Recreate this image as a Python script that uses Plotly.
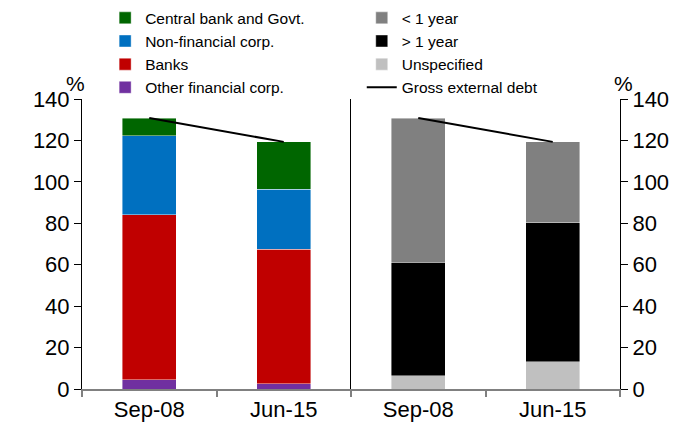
import plotly.graph_objects as go
from plotly.subplots import make_subplots

dates = ["Sep-08", "Jun-15"]

# left panel: external debt by sector (% of GDP)
other_fin = [4.5, 2.6]
banks = [79.7, 64.9]
non_fin = [38.0, 28.9]
central_govt = [8.6, 22.9]

# right panel: external debt by maturity
unspecified = [6.5, 13.2]
over_1y = [54.7, 67.0]
under_1y = [69.6, 39.1]

gross_debt = [130.8, 119.3]

FONT = "Liberation Sans, Arial, sans-serif"
EDGE = dict(color="rgba(255,255,255,0.6)", width=0.7)

fig = make_subplots(rows=1, cols=2, horizontal_spacing=0)

# stacked from the bottom up, legend order set by legendrank
left = [("Other financial corp.", other_fin, "#7030A0", 4),
        ("Banks", banks, "#C00000", 3),
        ("Non-financial corp.", non_fin, "#0070C0", 2),
        ("Central bank and Govt.", central_govt, "#006600", 1)]
for name, vals, col, rank in left:
    fig.add_trace(go.Bar(x=dates, y=vals, name=name, marker_color=col,
                         marker_line=EDGE, legend="legend", legendrank=rank),
                  row=1, col=1)

right = [("Unspecified", unspecified, "#C0C0C0", 3),
         ("> 1 year", over_1y, "#000000", 2),
         ("< 1 year", under_1y, "#808080", 1)]
for name, vals, col, rank in right:
    fig.add_trace(go.Bar(x=dates, y=vals, name=name, marker_color=col,
                         marker_line=EDGE, legend="legend2", legendrank=rank),
                  row=1, col=2)

fig.add_trace(go.Scatter(x=dates, y=gross_debt, mode="lines", showlegend=False,
                         line=dict(color="black", width=2)), row=1, col=1)
fig.add_trace(go.Scatter(x=dates, y=gross_debt, mode="lines", name="Gross external debt",
                         line=dict(color="black", width=2), legend="legend2",
                         legendrank=4), row=1, col=2)

xax = dict(showline=True, linecolor="#808080", linewidth=2, ticks="outside",
           tickson="boundaries", tickcolor="#808080", ticklen=6, tickwidth=2,
           tickfont=dict(size=22, color="black"), showgrid=False)
fig.update_xaxes(**xax)

yax = dict(range=[0, 140], dtick=20, showline=True, linecolor="black", linewidth=1,
           ticks="outside", ticklen=7, tickcolor="black", showgrid=False,
           zeroline=False, tickfont=dict(size=22, color="black"))
fig.update_yaxes(**yax, row=1, col=1)
fig.update_yaxes(**yax, side="right", mirror=True, row=1, col=2)

leg = dict(font=dict(size=15.5, color="black"), bgcolor="rgba(0,0,0,0)",
           traceorder="normal", yanchor="top", xanchor="left", itemwidth=30,
           tracegroupgap=0)

# page body adds an 8px margin, so the figure is drawn 8px smaller
fig.update_layout(
    barmode="stack", bargap=0.6,
    width=682, height=420,
    margin=dict(l=74, r=70, t=91, b=39, autoexpand=False),
    paper_bgcolor="white", plot_bgcolor="white",
    font=dict(family=FONT, color="black"),
    showlegend=True,
    legend=dict(x=0.043, y=1.337, **leg),
    legend2=dict(x=0.52, y=1.337, **leg),
    annotations=[
        dict(text="%", xref="paper", yref="paper", x=-0.013, y=1.055,
             xanchor="center", yanchor="middle", showarrow=False,
             font=dict(size=21)),
        dict(text="%", xref="paper", yref="paper", x=1.006, y=1.055,
             xanchor="center", yanchor="middle", showarrow=False,
             font=dict(size=21)),
    ],
)

fig.write_html("out.html")
